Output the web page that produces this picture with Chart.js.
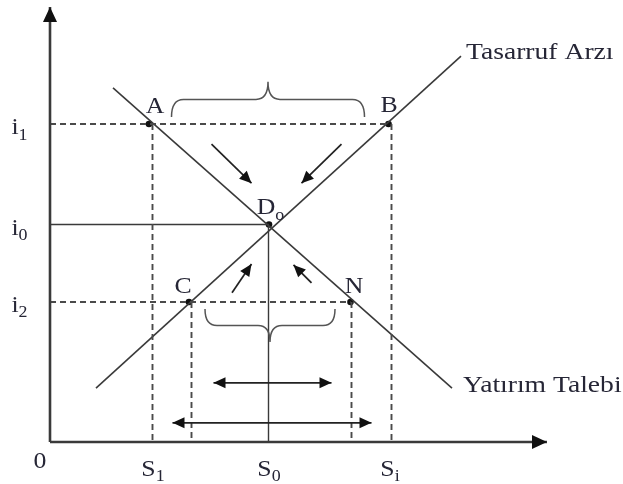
<!DOCTYPE html>
<html>
<head>
<meta charset="utf-8">
<script src="https://cdn.jsdelivr.net/npm/chart.js@4.4.1/dist/chart.umd.min.js"></script>
<style>
  html, body { margin: 0; padding: 0; background: #fff; }
</style>
</head>
<body>
<canvas id="c" width="623" height="484"></canvas>
<script>
// curves (two end points each)
const supplyX = [9.2, 82.2];
const supplyY = [12.4, 88.7];
const demandX = [12.6, 80.4];
const demandY = [81.4, 12.4];

// marked points
const pointNames = ['A', 'B', 'C', 'N', 'D'];
const pointSubs = ['', '', '', '', 'o'];
const pointX = [19.8, 67.7, 27.8, 60.1, 43.8];
const pointY = [73.1, 73.1, 32.2, 32.2, 50.0];
const pointLabelX = [21.0, 67.8, 26.6, 60.8, 43.2];
const pointLabelY = [77.0, 77.2, 35.6, 35.6, 53.8];

// rates and quantities on the axes
const rateNames = ['i', 'i', 'i'];
const rateSubs = ['1', '0', '2'];
const rateY = [73.1, 50.0, 32.2];
const qtyNames = ['S', 'S', 'S'];
const qtySubs = ['1', '0', 'i'];
const qtyX = [20.5, 43.7, 68.3];

// dashed guides [x1, y1, x2, y2]
const dashedGuides = [
  [0, 73.1, 67.7, 73.1],
  [0, 32.2, 60.1, 32.2],
  [20.5, 73.1, 20.5, 0],
  [68.3, 73.1, 68.3, 0],
  [28.3, 32.2, 28.3, 0.9],
  [60.3, 32.2, 60.3, 0.9]
];
// solid guides
const solidGuides = [
  [0, 50.0, 43.8, 50.0],
  [43.7, 50.0, 43.7, 0]
];

// axes with arrow heads
const axes = [
  [0, 0, 0, 100],
  [0, 0, 99.4, 0]
];
// small arrows
const arrows = [
  [32.3, 68.5, 40.3, 59.5],
  [58.3, 68.5, 50.3, 59.5],
  [36.4, 34.3, 40.3, 40.9],
  [52.3, 36.6, 48.7, 40.7]
];
// double headed arrows
const doubleArrows = [
  [32.7, 13.6, 56.3, 13.6],
  [24.5, 4.4, 64.3, 4.4]
];
// braces [x1, x2, yEnd, yTip]
const braces = [
  [24.3, 62.9, 74.7, 82.8],
  [31.0, 57.0, 30.6, 23.0]
];

const curveNames = ['Tasarruf Arzı', 'Yatırım Talebi'];
const curveLabelX = [83.2, 82.6];
const curveLabelY = [89.4, 12.9];

const LINE = '#3a3a3a';
const TEXT = '#262636';
const FONT = '"Liberation Serif", "DejaVu Serif", serif';
const STRETCH = 1.12;

function seg(a, color, dash, width) {
  return {
    data: [{x: a[0], y: a[1]}, {x: a[2], y: a[3]}],
    showLine: true,
    borderColor: color,
    borderWidth: width,
    borderDash: dash,
    pointRadius: 0,
    fill: false
  };
}

const datasets = [];
dashedGuides.forEach(g => datasets.push(seg(g, '#4a4a4a', [6, 4], 1.9)));
solidGuides.forEach(g => datasets.push(seg(g, LINE, [], 1.4)));
datasets.push(seg([supplyX[0], supplyY[0], supplyX[1], supplyY[1]], LINE, [], 1.6));
datasets.push(seg([demandX[0], demandY[0], demandX[1], demandY[1]], LINE, [], 1.6));
datasets.push({
  data: pointX.map((x, i) => ({x: x, y: pointY[i]})),
  showLine: false,
  pointRadius: 3.3,
  pointBackgroundColor: '#111',
  pointBorderWidth: 0
});

function arrowHead(ctx, x1, y1, x2, y2, len, half) {
  const a = Math.atan2(y2 - y1, x2 - x1);
  ctx.beginPath();
  ctx.moveTo(x2, y2);
  ctx.lineTo(x2 - len * Math.cos(a) + half * Math.sin(a), y2 - len * Math.sin(a) - half * Math.cos(a));
  ctx.lineTo(x2 - len * Math.cos(a) - half * Math.sin(a), y2 - len * Math.sin(a) + half * Math.cos(a));
  ctx.closePath();
  ctx.fill();
}

function drawArrow(ctx, p, width, len, half, both) {
  ctx.lineWidth = width;
  ctx.beginPath();
  ctx.moveTo(p[0], p[1]);
  ctx.lineTo(p[2], p[3]);
  ctx.stroke();
  arrowHead(ctx, p[0], p[1], p[2], p[3], len, half);
  if (both) arrowHead(ctx, p[2], p[3], p[0], p[1], len, half);
}

function stretched(ctx, txt, px, py) {
  ctx.save();
  ctx.translate(px, py);
  ctx.scale(STRETCH, 1);
  ctx.fillText(txt, 0, 0);
  ctx.restore();
}

function label(ctx, txt, sub, px, py, size) {
  ctx.font = size + 'px ' + FONT;
  const w = ctx.measureText(txt).width * STRETCH;
  stretched(ctx, txt, px - w / 2, py);
  if (sub) {
    ctx.font = Math.round(size * 0.7) + 'px ' + FONT;
    stretched(ctx, sub, px + w / 2, py + size * 0.32);
  }
}

const extras = {
  id: 'extras',
  afterDatasetsDraw(chart) {
    const ctx = chart.ctx;
    const sx = chart.scales.x, sy = chart.scales.y;
    const P = a => [sx.getPixelForValue(a[0]), sy.getPixelForValue(a[1]), sx.getPixelForValue(a[2]), sy.getPixelForValue(a[3])];
    ctx.save();
    ctx.strokeStyle = '#3a3a3a';
    ctx.fillStyle = '#111';
    ctx.lineCap = 'butt';
    axes.forEach(a => drawArrow(ctx, P(a), 2.6, 15, 7, false));
    ctx.strokeStyle = '#222';
    arrows.forEach(a => drawArrow(ctx, P(a), 1.7, 12, 5.5, false));
    doubleArrows.forEach(a => drawArrow(ctx, P(a), 1.7, 12, 5.5, true));

    // braces
    ctx.strokeStyle = '#555';
    ctx.lineWidth = 1.5;
    braces.forEach(b => {
      const x1 = sx.getPixelForValue(b[0]), x2 = sx.getPixelForValue(b[1]);
      const ye = sy.getPixelForValue(b[2]), yt = sy.getPixelForValue(b[3]);
      const yl = (ye + yt) / 2;
      const cx = (x1 + x2) / 2, r = 12;
      ctx.beginPath();
      ctx.moveTo(x1, ye);
      ctx.quadraticCurveTo(x1, yl, x1 + r, yl);
      ctx.lineTo(cx - r, yl);
      ctx.quadraticCurveTo(cx, yl, cx, yt);
      ctx.quadraticCurveTo(cx, yl, cx + r, yl);
      ctx.lineTo(x2 - r, yl);
      ctx.quadraticCurveTo(x2, yl, x2, ye);
      ctx.stroke();
    });

    // texts
    ctx.fillStyle = TEXT;
    ctx.textBaseline = 'middle';
    ctx.textAlign = 'left';
    const size = 23;
    pointNames.forEach((n, i) => label(ctx, n, pointSubs[i], sx.getPixelForValue(pointLabelX[i]), sy.getPixelForValue(pointLabelY[i]), size));
    rateNames.forEach((n, i) => label(ctx, n, rateSubs[i], sx.getPixelForValue(-7), sy.getPixelForValue(rateY[i]) + 4, size));
    qtyNames.forEach((n, i) => label(ctx, n, qtySubs[i], sx.getPixelForValue(qtyX[i]) - 4, sy.getPixelForValue(-6.4), size));
    label(ctx, '0', '', sx.getPixelForValue(-2), sy.getPixelForValue(-4.6), size);
    ctx.font = '24px ' + FONT;
    ctx.save();
    curveNames.forEach((n, i) => {
      ctx.save();
      ctx.translate(sx.getPixelForValue(curveLabelX[i]), sy.getPixelForValue(curveLabelY[i]));
      ctx.scale(1.15, 1);
      ctx.fillText(n, 0, 0);
      ctx.restore();
    });
    ctx.restore();
    ctx.restore();
  }
};

new Chart(document.getElementById('c').getContext('2d'), {
  type: 'scatter',
  data: { datasets: datasets },
  options: {
    responsive: false,
    animation: false,
    layout: { padding: { left: 50, right: 73, top: 7, bottom: 42 } },
    scales: {
      x: { type: 'linear', min: 0, max: 100, display: false },
      y: { type: 'linear', min: 0, max: 100, display: false }
    },
    plugins: { legend: { display: false }, tooltip: { enabled: false } }
  },
  plugins: [extras]
});
</script>
</body>
</html>
